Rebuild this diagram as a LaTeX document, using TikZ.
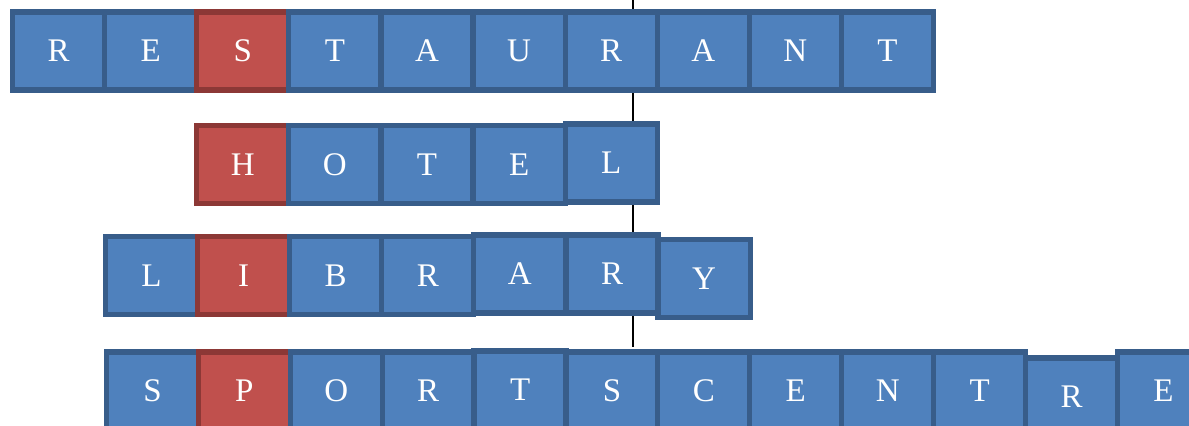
\documentclass[tikz,border=0pt]{standalone}
\usepackage{fontspec}
\setmainfont{Liberation Serif}
\usetikzlibrary{positioning}
\definecolor{boxblue}{HTML}{4F81BD}
\definecolor{lineblue}{HTML}{385D8A}
\definecolor{boxred}{HTML}{C0504D}
\definecolor{linered}{HTML}{8C3836}
\tikzset{
  letter/.style={line width=2.6pt,minimum width=46.05pt,minimum height=39pt,
    inner sep=0pt,text=white,font=\fontsize{16.5}{16.5}\selectfont}
}
\begin{document}
\begin{tikzpicture}[x=0.5pt,y=-0.5pt]
\useasboundingbox (0,0) rectangle (1189,426);
%
% middle line, behind the words
\coordinate (linetop) at (633,0);
\coordinate (linebot) at (633,347);
\draw[line width=0.6pt] (linetop)--(linebot);
%
% first word
\foreach \l/\k/\d [count=\i] in {R/blue/0,E/blue/0,S/red/0,T/blue/0,A/blue/0,U/blue/0,R/blue/0,A/blue/0,N/blue/0,T/blue/0}
\node[letter,fill=box\k,draw=line\k] (rest\i) at ({58.6+(\i-1)*92.1},51+\d) {\l};
%
% second word
\foreach \l/\k/\d [count=\i] in {H/red/0,O/blue/0,T/blue/0,E/blue/0,L/blue/-1.5}
\node[letter,fill=box\k,draw=line\k] (hotel\i) at ({242.8+(\i-1)*92.1},164.5+\d) {\l};
%
% third word
\foreach \l/\k/\d [count=\i] in {L/blue/0,I/red/0,B/blue/0,R/blue/0,A/blue/-1.5,R/blue/-1.5,Y/blue/3}
\node[letter,fill=box\k,draw=line\k] (libr\i) at ({151.5+(\i-1)*92.1},275.5+\d) {\l};
%
% fourth word
\foreach \l/\k/\d [count=\i] in {S/blue/0,P/red/0,O/blue/0,R/blue/0,T/blue/-1,S/blue/0,C/blue/0,E/blue/0,N/blue/0,T/blue/0,R/blue/6,E/blue/0}
\node[letter,fill=box\k,draw=line\k] (sport\i) at ({152.5+(\i-1)*91.9},391+\d) {\l};
%
\end{tikzpicture}
\end{document}
